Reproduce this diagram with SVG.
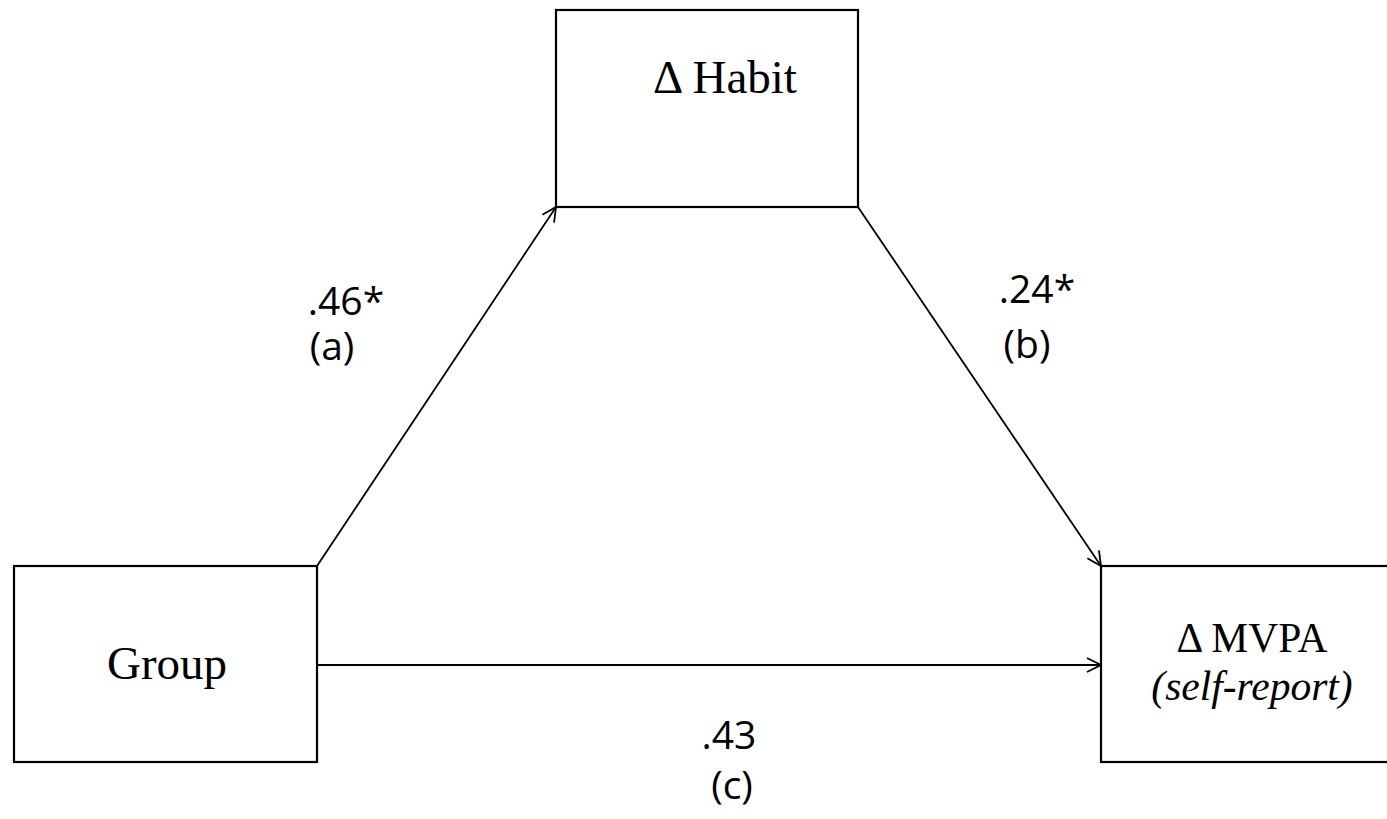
<svg xmlns="http://www.w3.org/2000/svg" width="1387" height="819" viewBox="0 0 1387 819">
<defs>
<style>
.box{fill:#fff;stroke:#000;stroke-width:2.2}
.edge{fill:none;stroke:#000;stroke-width:1.8}
.serif{font-family:"Liberation Serif","Times New Roman",serif;font-size:47px;fill:#000}
.serif2{font-family:"Liberation Serif","Times New Roman",serif;font-size:41.5px;fill:#000}
.lbl{font-family:"Open Sans","Noto Sans",sans-serif;font-size:39px;fill:#000}
</style>
<marker id="arr" viewBox="0 0 20 20" refX="18" refY="10" markerWidth="20" markerHeight="20" markerUnits="userSpaceOnUse" orient="auto">
<path d="M4,3 L18,10 L4,17" fill="none" stroke="#000" stroke-width="1.8"/>
</marker>
</defs>
<rect width="1387" height="819" fill="#fff"/>
<g id="connectors">
<line class="edge" x1="317" y1="566" x2="556" y2="207" marker-end="url(#arr)"/>
<line class="edge" x1="858" y1="207" x2="1101" y2="566" marker-end="url(#arr)"/>
<line class="edge" x1="317" y1="665" x2="1101" y2="665" marker-end="url(#arr)"/>
</g>
<g id="habit">
<rect class="box" x="556" y="10" width="302" height="197"/>
<text class="serif" x="725" y="93" text-anchor="middle">Δ Habit</text>
</g>
<g id="group">
<rect class="box" x="14" y="566" width="303" height="196"/>
<text class="serif" x="167" y="679" text-anchor="middle">Group</text>
</g>
<g id="mvpa">
<rect class="box" x="1101" y="566" width="290" height="196"/>
<text class="serif2" x="1252" y="652" text-anchor="middle">Δ MVPA</text>
<text class="serif2" x="1252" y="700" text-anchor="middle" font-style="italic">(self-report)</text>
</g>
<g id="labels">
<text class="lbl" x="346" y="315" text-anchor="middle">.46*</text>
<text class="lbl" x="332" y="360" text-anchor="middle">(a)</text>
<text class="lbl" x="1037" y="303" text-anchor="middle">.24*</text>
<text class="lbl" x="1027" y="358" text-anchor="middle">(b)</text>
<text class="lbl" x="729" y="749" text-anchor="middle">.43</text>
<text class="lbl" x="732" y="799" text-anchor="middle">(c)</text>
</g>
</svg>
